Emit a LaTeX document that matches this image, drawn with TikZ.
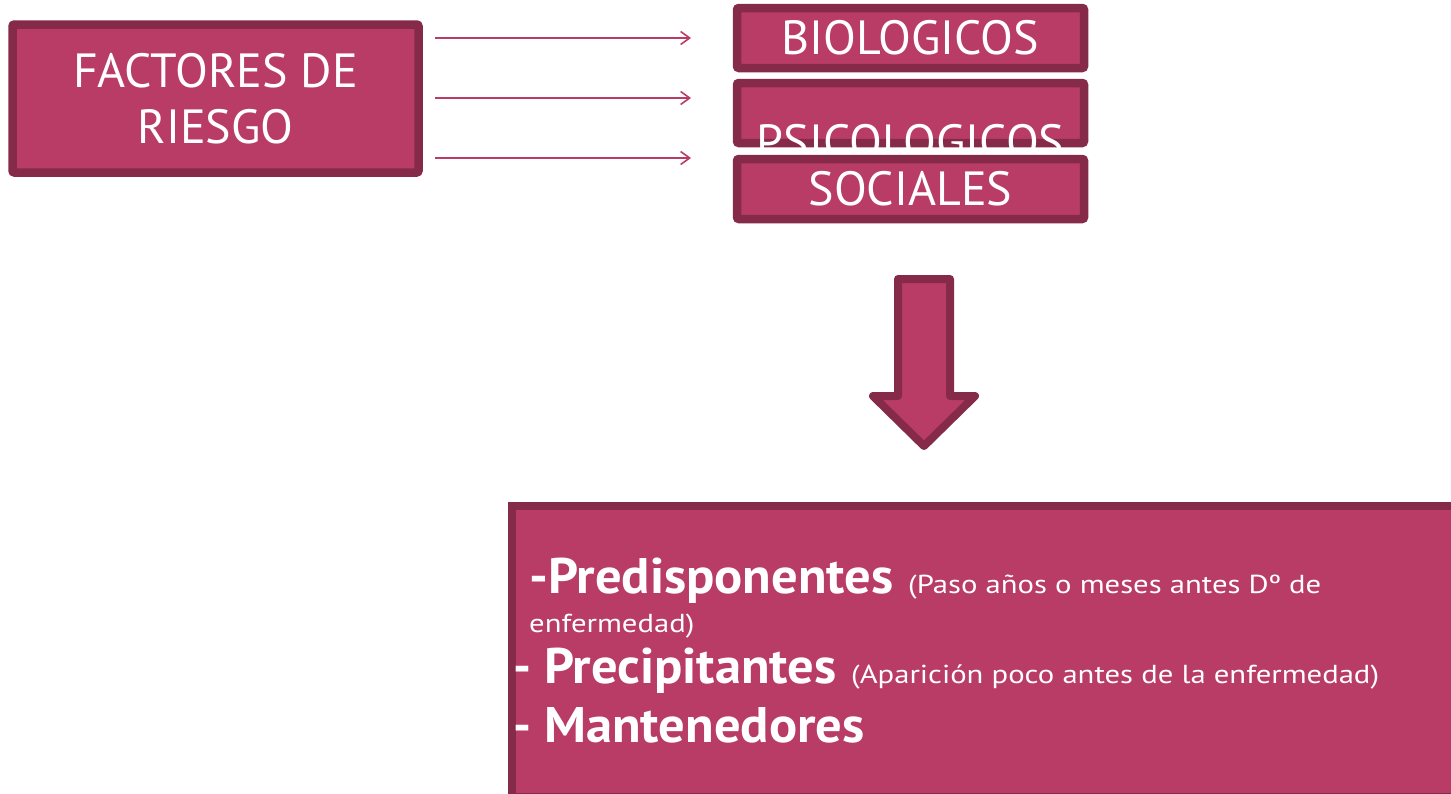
\documentclass[tikz,border=0pt]{standalone}
\usepackage{graphicx}
\usepackage{fontspec}
\setmainfont{PT Sans}
\usetikzlibrary{arrows.meta}
\definecolor{rfill}{HTML}{B93C66}
\definecolor{rborder}{HTML}{862A4A}
\newcommand{\wideS}[1]{\scalebox{1.18}[1]{#1}}
\newcommand{\wideB}[1]{\scalebox{1.05}[1]{#1}}
\begin{document}
\begin{tikzpicture}[x=1pt,y=-1pt,
  box/.style={draw=rborder,fill=rfill,line width=8.5pt,rounded corners=2pt,inner sep=0pt,outer sep=0pt,text=white},
  link/.style={draw=rfill,line width=2.2pt,-{Straight Barb[length=9pt,width=13pt,line width=1.6pt]}},
  big/.style={text=white,inner sep=0pt,anchor=base west,font=\bfseries\fontsize{50}{60}\selectfont},
  small/.style={text=white,inner sep=0pt,anchor=base west,font=\fontsize{26}{30}\selectfont},
  title/.style={font=\fontsize{48}{48}\selectfont}]
\clip (0,0) rectangle (1451,793);
\fill[white] (0,0) rectangle (1451,793);
% left box
\node[box,minimum width=406pt,minimum height=148pt,align=center,font=\fontsize{48}{56}\selectfont] (factors) at (215.5,98.5) {FACTORES DE\\RIESGO};
% category boxes
\node[box,title,minimum width=347pt,minimum height=60pt] (bio) at (910.5,38) {BIOLOGICOS};
\node[box,minimum width=347pt,minimum height=60pt] (psi) at (910.5,113) {};
\node[text=white,inner sep=0pt,anchor=base,title] (psit) at (910.5,158) {PSICOLOGICOS};
\node[box,title,minimum width=347pt,minimum height=60pt] (soc) at (910.5,189) {SOCIALES};
% arrows
\coordinate (s1) at (435,38);  \coordinate (e1) at (691,38);
\coordinate (s2) at (435,98);  \coordinate (e2) at (691,98);
\coordinate (s3) at (435,158); \coordinate (e3) at (691,158);
\draw[link] (s1) -- (e1);
\draw[link] (s2) -- (e2);
\draw[link] (s3) -- (e3);
% big down arrow
\draw[draw=rborder,fill=rfill,line width=8pt,line join=round]
  (898,279) -- (950,279) -- (950,396) -- (975,396) -- (924,446) -- (873,396) -- (898,396) -- cycle;
% bottom box
\node[box,rounded corners=0pt,minimum width=948pt,minimum height=291pt] (main) at (986,651.5) {};
\node[big] (p1) at (529,593) {\wideB{-Predisponentes}};
\node[small] (p1b) at (908,593) {\wideS{(Paso años o meses antes Dº de}};
\node[small] (p2) at (529,632) {\wideS{enfermedad)}};
\node[big] (d2) at (513,683) {-};
\node[big] (pr) at (544,683) {\wideB{Precipitantes}};
\node[small] (prb) at (851,683) {\wideS{(Aparición poco antes de la enfermedad)}};
\node[big] (d3) at (513,742) {-};
\node[big] (m) at (544,742) {\wideB{Mantenedores}};
\end{tikzpicture}
\end{document}
